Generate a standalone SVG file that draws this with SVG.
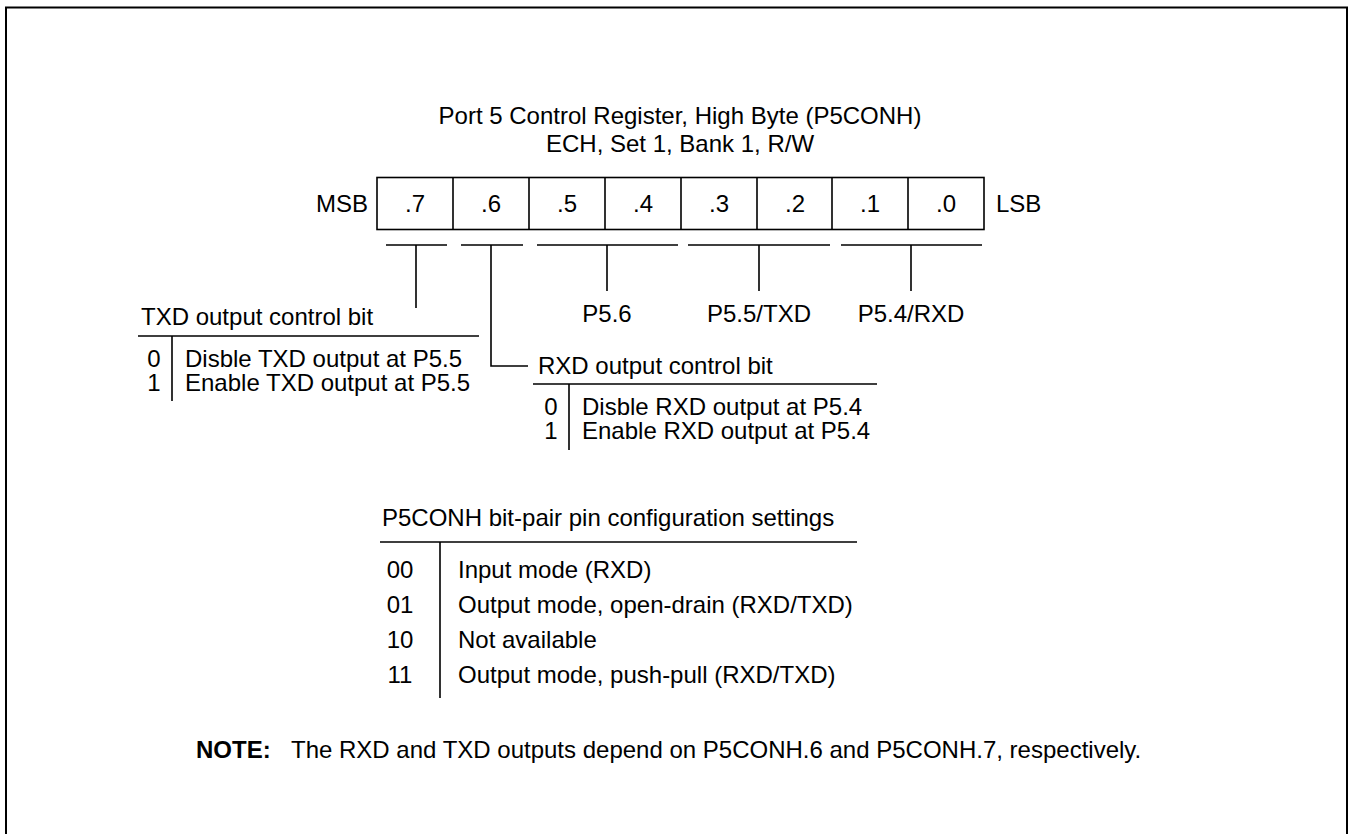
<svg xmlns="http://www.w3.org/2000/svg" width="1351" height="834" viewBox="0 0 1351 834">
<style>
text{font-family:"Liberation Sans",Arial,sans-serif;font-size:24px;fill:#000}
.m{text-anchor:middle}
.e{text-anchor:end}
.b{font-weight:bold}
.ln{stroke:#000;stroke-width:1.6;fill:none}
</style>
<rect x="0" y="0" width="1351" height="834" fill="#fff"/>
<rect x="6" y="7.5" width="1341" height="900" fill="none" stroke="#000" stroke-width="2"/>
<g id="title">
<text class="m" x="680" y="124">Port 5 Control Register, High Byte (P5CONH)</text>
<text class="m" x="680" y="152">ECH, Set 1, Bank 1, R/W</text>
</g>
<g id="register">
<text class="e" x="368" y="212">MSB</text>
<rect class="ln" x="377" y="177.5" width="607" height="52"/>
<path class="ln" d="M453 177.5V229.5M529 177.5V229.5M605 177.5V229.5M681 177.5V229.5M757 177.5V229.5M832 177.5V229.5M908 177.5V229.5"/>
<text class="m" x="415" y="212">.7</text>
<text class="m" x="491" y="212">.6</text>
<text class="m" x="567" y="212">.5</text>
<text class="m" x="643" y="212">.4</text>
<text class="m" x="719" y="212">.3</text>
<text class="m" x="795" y="212">.2</text>
<text class="m" x="870" y="212">.1</text>
<text class="m" x="946" y="212">.0</text>
<text x="996" y="212">LSB</text>
</g>
<g id="connectors">
<path class="ln" d="M386 245H447M461 245H523M537 245H678M688 245H830M841 245H982"/>
<path class="ln" d="M416 245V308M491 245V366H528M607 245V291M759 245V291M911 245V291"/>
</g>
<g id="pins">
<text class="m" x="607" y="322">P5.6</text>
<text class="m" x="759" y="322">P5.5/TXD</text>
<text class="m" x="911" y="322">P5.4/RXD</text>
</g>
<g id="txd">
<text x="141" y="325">TXD output control bit</text>
<path class="ln" d="M138 336H479M172 336V401"/>
<text class="m" x="154" y="367">0</text>
<text x="185" y="367">Disble TXD output at P5.5</text>
<text class="m" x="154" y="391">1</text>
<text x="185" y="391">Enable TXD output at P5.5</text>
</g>
<g id="rxd">
<text x="538" y="374">RXD output control bit</text>
<path class="ln" d="M533 384H877M569 384V450"/>
<text class="m" x="551" y="415">0</text>
<text x="582" y="415">Disble RXD output at P5.4</text>
<text class="m" x="551" y="439">1</text>
<text x="582" y="439">Enable RXD output at P5.4</text>
</g>
<g id="config">
<text x="382" y="526">P5CONH bit-pair pin configuration settings</text>
<path class="ln" d="M380 542H857M440 542V698"/>
<text class="m" x="400" y="578">00</text>
<text x="458" y="578">Input mode (RXD)</text>
<text class="m" x="400" y="613">01</text>
<text x="458" y="613">Output mode, open-drain (RXD/TXD)</text>
<text class="m" x="400" y="648">10</text>
<text x="458" y="648">Not available</text>
<text class="m" x="400" y="683">11</text>
<text x="458" y="683">Output mode, push-pull (RXD/TXD)</text>
</g>
<g id="note">
<text x="196" y="758"><tspan class="b">NOTE:</tspan><tspan x="291">The RXD and TXD outputs depend on P5CONH.6 and P5CONH.7, respectively.</tspan></text>
</g>
</svg>
